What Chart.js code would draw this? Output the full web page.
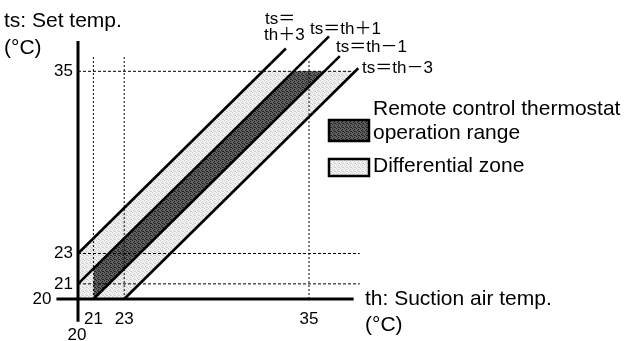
<!DOCTYPE html>
<html>
<head>
<meta charset="utf-8">
<script src="https://cdn.jsdelivr.net/npm/chart.js@4"></script>
<style>
  body { margin: 0; background: #fff; }
  #wrap { width: 628px; height: 341px; }
</style>
</head>
<body>
<div id="wrap"><canvas id="chart" width="628" height="341"></canvas></div>
<script>
// Datos del diagrama (temperaturas en °C)
const thTicks = [21, 23, 35];
const tsTicks = [21, 23, 35];
const originLabel = 20;

// Rectas ts = th + k
const lineOffsets = [3, 1, -1, -3];
const lineStartTh = [20, 20, 21, 23];
const lineEndTh = [33.5, 36.3, 37, 38.2];

// Zonas: puntos [th, ts]
const rangeUpper = [[21, 22], [34, 35], [36, 35]];
const rangeLower = [[21, 20], [36, 35]];
const diffUpper = [[20, 23], [32, 35], [38, 35]];
const diffLower = [[20, 20], [23, 20], [38, 35]];

// Líneas de referencia punteadas
const refTs = [35, 23, 21];
const refTsEnd = [37.9, 38.3, 38.3];
const refTh = [21, 23, 35];
const refThTop = [36, 36, 35.7];

// Ejes
const axisX = [[18.6, 20], [37.9, 20]];
const axisY = [[20, 18.5], [20, 37]];

const FONT = '"Liberation Sans", Arial, "Noto Sans CJK JP", sans-serif';
const NARROW = '"Liberation Sans Narrow", "Liberation Sans", "Noto Sans CJK JP", sans-serif';

// Textura punteada para las zonas
function makePattern(base, dot) {
  const c = document.createElement('canvas');
  c.width = 4; c.height = 4;
  const g = c.getContext('2d');
  g.fillStyle = base;
  g.fillRect(0, 0, 4, 4);
  g.fillStyle = dot;
  [[0, 0], [2, 1], [1, 2], [3, 3], [2, 3]].forEach(([px, py]) => g.fillRect(px, py, 1, 1));
  return g.createPattern(c, 'repeat');
}
const darkFill = makePattern('#606060', '#222222');
const lightFill = makePattern('#f2f2f2', '#cfcfcf');

const toPts = arr => arr.map(p => ({ x: p[0], y: p[1] }));

const base = { pointRadius: 0, borderWidth: 0, fill: false, tension: 0 };

const datasets = [];

// zona de operación (oscura) y zona diferencial (clara)
datasets.push({ ...base, data: toPts(rangeUpper), fill: '+1', backgroundColor: darkFill, borderColor: 'rgba(0,0,0,0)' });
datasets.push({ ...base, data: toPts(rangeLower), borderColor: 'rgba(0,0,0,0)' });
datasets.push({ ...base, data: toPts(diffUpper), fill: '+1', backgroundColor: lightFill, borderColor: 'rgba(0,0,0,0)' });
datasets.push({ ...base, data: toPts(diffLower), borderColor: 'rgba(0,0,0,0)' });

// rectas
lineOffsets.forEach((k, i) => {
  datasets.push({ ...base, borderWidth: 2.6, borderColor: '#000',
    data: [{ x: lineStartTh[i], y: lineStartTh[i] + k }, { x: lineEndTh[i], y: lineEndTh[i] + k }] });
});

// punteadas
refTs.forEach((v, i) => {
  datasets.push({ ...base, borderWidth: 1, borderColor: '#000', borderDash: [3, 2],
    data: [{ x: 20, y: v }, { x: refTsEnd[i], y: v }] });
});
refTh.forEach((v, i) => {
  datasets.push({ ...base, borderWidth: 1, borderColor: '#000', borderDash: [2, 2],
    data: [{ x: v, y: 20 }, { x: v, y: refThTop[i] }] });
});

// ejes
datasets.push({ ...base, borderWidth: 3, borderColor: '#000', data: toPts(axisX) });
datasets.push({ ...base, borderWidth: 3, borderColor: '#000', data: toPts(axisY) });

const textPlugin = {
  id: 'textos',
  afterDraw(chart) {
    const ctx = chart.ctx;
    const xs = chart.scales.x, ys = chart.scales.y;
    const x0 = xs.getPixelForValue(originLabel);
    const y0 = ys.getPixelForValue(originLabel);
    ctx.save();
    ctx.fillStyle = '#000';

    // marcas de los ejes
    ctx.font = '17px ' + NARROW;
    ctx.textBaseline = 'middle';
    ctx.textAlign = 'right';
    tsTicks.forEach(v => ctx.fillText(String(v), x0 - 5, ys.getPixelForValue(v)));
    ctx.fillText(String(originLabel), xs.getPixelForValue(axisX[0][0]) - 5, y0);
    ctx.textAlign = 'center';
    thTicks.forEach(v => ctx.fillText(String(v), xs.getPixelForValue(v), y0 + 20));
    ctx.fillText(String(originLabel), x0 - 1, ys.getPixelForValue(axisY[0][1]) + 13);

    // etiquetas de las rectas
    ctx.textAlign = 'left';
    ctx.fillText('ts＝', 265, 19);
    ctx.fillText('th＋3', 264, 35);
    ctx.fillText('ts＝th＋1', 310, 29);
    ctx.fillText('ts＝th－1', 336, 47);
    ctx.fillText('ts＝th－3', 362, 68);

    // títulos de los ejes
    ctx.font = '21px ' + FONT;
    ctx.textBaseline = 'alphabetic';
    ctx.fillText('ts: Set temp.', 4, 27);
    ctx.fillText('(°C)', 4, 54);
    ctx.fillText('th: Suction air temp.', 365, 305);
    ctx.fillText('(°C)', 365, 331);

    // leyenda
    ctx.fillText('Remote control thermostat', 373, 115);
    ctx.fillText('operation range', 373, 139);
    ctx.fillText('Differential zone', 373, 172);
    ctx.lineWidth = 2.5;
    ctx.strokeStyle = '#000';
    ctx.fillStyle = darkFill;
    ctx.fillRect(329, 120, 40, 21);
    ctx.strokeRect(329, 120, 40, 21);
    ctx.fillStyle = lightFill;
    ctx.fillRect(329, 159, 40, 17);
    ctx.strokeRect(329, 159, 40, 17);
    ctx.restore();
  }
};

new Chart(document.getElementById('chart'), {
  type: 'line',
  data: { datasets: datasets },
  options: {
    responsive: false,
    animation: false,
    layout: { padding: { left: 1, right: 11, top: 3, bottom: 4 } },
    scales: {
      x: { type: 'linear', min: 15, max: 55, display: false },
      y: { type: 'linear', min: 17.5, max: 39.5, display: false }
    },
    plugins: {
      legend: { display: false },
      tooltip: { enabled: false },
      filler: { drawTime: 'beforeDatasetsDraw' }
    }
  },
  plugins: [textPlugin]
});
</script>
</body>
</html>
